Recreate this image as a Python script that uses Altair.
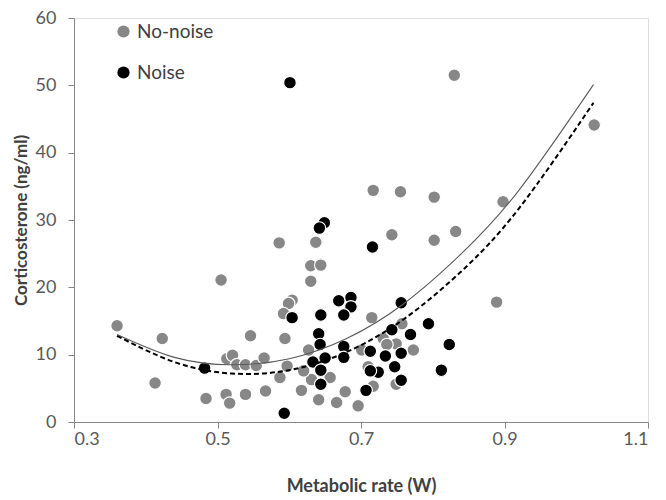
import altair as alt
import pandas as pd

# ---- data ----
nonoise_x = [0.360, 0.423, 0.413, 0.505, 0.484, 0.513, 0.521, 0.527, 0.539, 0.512,
             0.517, 0.539, 0.546, 0.554, 0.565, 0.567, 0.586, 0.637, 0.743, 0.802,
             0.630, 0.644, 0.630, 0.604, 0.599, 0.592, 0.715, 0.594, 0.627, 0.757,
             0.597, 0.587, 0.657, 0.631, 0.617, 0.641, 0.678, 0.666, 0.696, 0.717,
             0.701, 0.773, 0.749, 0.731, 0.749, 0.736, 0.717, 0.755, 0.802, 0.898,
             0.832, 0.889, 1.025, 0.830, 0.620, 0.710]
nonoise_y = [14.3, 12.4, 5.8, 21.1, 3.5, 9.4, 9.9, 8.5, 8.5, 4.1,
             2.8, 4.1, 12.8, 8.4, 9.5, 4.6, 26.6, 26.7, 27.8, 27.0,
             23.2, 23.3, 20.9, 18.1, 17.6, 16.1, 15.5, 12.4, 10.7, 14.6,
             8.3, 6.6, 6.6, 6.3, 4.7, 3.3, 4.5, 2.9, 2.4, 5.3,
             10.7, 10.7, 5.6, 12.4, 11.6, 11.5, 34.4, 34.2, 33.4, 32.7,
             28.3, 17.8, 44.1, 51.5, 7.6, 8.2]

noise_x = [0.482, 0.601, 0.649, 0.642, 0.716, 0.604, 0.644, 0.669, 0.686, 0.686,
           0.676, 0.756, 0.794, 0.641, 0.643, 0.676, 0.743, 0.769, 0.650, 0.676,
           0.633, 0.644, 0.644, 0.593, 0.707, 0.713, 0.734, 0.756, 0.747, 0.724,
           0.713, 0.756, 0.812, 0.823]
noise_y = [8.0, 50.4, 29.6, 28.8, 26.0, 15.5, 15.9, 18.0, 18.5, 17.1,
           15.9, 17.7, 14.6, 13.1, 11.5, 11.2, 13.7, 13.0, 9.5, 9.6,
           8.9, 7.7, 5.6, 1.3, 4.7, 10.5, 9.8, 10.2, 8.2, 7.4,
           7.6, 6.2, 7.7, 11.5]

# trend curves, values
curve_x = [0.36, 0.44, 0.52, 0.60, 0.68, 0.76, 0.84, 0.92, 1.024]
curve_nonoise = [13.0, 9.6, 8.5, 9.4, 12.4, 17.6, 25.0, 34.4, 50.1]
curve_noise = [12.8, 8.9, 7.2, 7.7, 10.4, 15.3, 22.4, 31.7, 47.4]

groups = ["No-noise", "Noise"]
colors = ["#878787", "#000000"]
x_ticks = [0.3, 0.5, 0.7, 0.9, 1.1]
y_ticks = [0, 10, 20, 30, 40, 50, 60]

pts = pd.concat([
    pd.DataFrame({"x": nonoise_x, "y": nonoise_y, "g": groups[0]}),
    pd.DataFrame({"x": noise_x, "y": noise_y, "g": groups[1]}),
], ignore_index=True)
pts["o"] = range(len(pts))

curves = pd.concat([
    pd.DataFrame({"x": curve_x, "y": curve_nonoise, "g": groups[0]}),
    pd.DataFrame({"x": curve_x, "y": curve_noise, "g": groups[1]}),
], ignore_index=True)

FONT = "Lato"

xscale = alt.Scale(domain=[0.3, 1.1], nice=False, zero=False)
yscale = alt.Scale(domain=[0, 60], nice=False)

xaxis = alt.Axis(values=x_ticks, format=".1f", grid=False, title="Metabolic rate (W)",
                 domainColor="#868686", tickColor="#868686", tickSize=6,
                 labelFont=FONT, labelFontSize=18, labelColor="#595959", labelPadding=2,
                 titleFont=FONT, titleFontSize=18, titleFontWeight="bold",
                 titleColor="#404040", titlePadding=29)
yaxis = alt.Axis(values=y_ticks, grid=False, title="Corticosterone (ng/ml)",
                 domainColor="#868686", tickColor="#868686", tickSize=6,
                 labelFont=FONT, labelFontSize=18, labelColor="#595959", labelPadding=12,
                 titleFont=FONT, titleFontSize=17, titleFontWeight="bold",
                 titleColor="#404040", titlePadding=5)

points = alt.Chart(pts).mark_point(filled=True, size=160, opacity=1,
                                     stroke="white", strokeWidth=1.2).encode(
    x=alt.X("x:Q", scale=xscale, axis=xaxis),
    y=alt.Y("y:Q", scale=yscale, axis=yaxis),
    color=alt.Color("g:N", scale=alt.Scale(domain=groups, range=colors),
                    legend=alt.Legend(title=None, orient="none", legendX=40, legendY=4,
                                      symbolType="circle", symbolSize=150,
                                      symbolStrokeWidth=0, labelFont=FONT,
                                      labelFontSize=19, labelColor="#404040",
                                      labelOffset=4, rowPadding=21, padding=0)),
    order=alt.Order("o:Q"),
)

line_nn = alt.Chart(curves[curves["g"] == groups[0]]).mark_line(
    color="#595959", strokeWidth=1.1, interpolate="natural").encode(
    x=alt.X("x:Q", scale=xscale), y=alt.Y("y:Q", scale=yscale))
line_n = alt.Chart(curves[curves["g"] == groups[1]]).mark_line(
    color="#000000", strokeWidth=2, strokeDash=[5, 3], interpolate="natural").encode(
    x=alt.X("x:Q", scale=xscale), y=alt.Y("y:Q", scale=yscale))

chart = alt.layer(points, line_nn, line_n).properties(
    width=574, height=404,
    autosize=alt.AutoSizeParams(type="none"),
    padding={"left": 66, "top": 10, "right": 10, "bottom": 75},
).configure_view(stroke=None).configure(background="white")

chart.save("out.html", embed_options={"renderer": "svg", "actions": False})
